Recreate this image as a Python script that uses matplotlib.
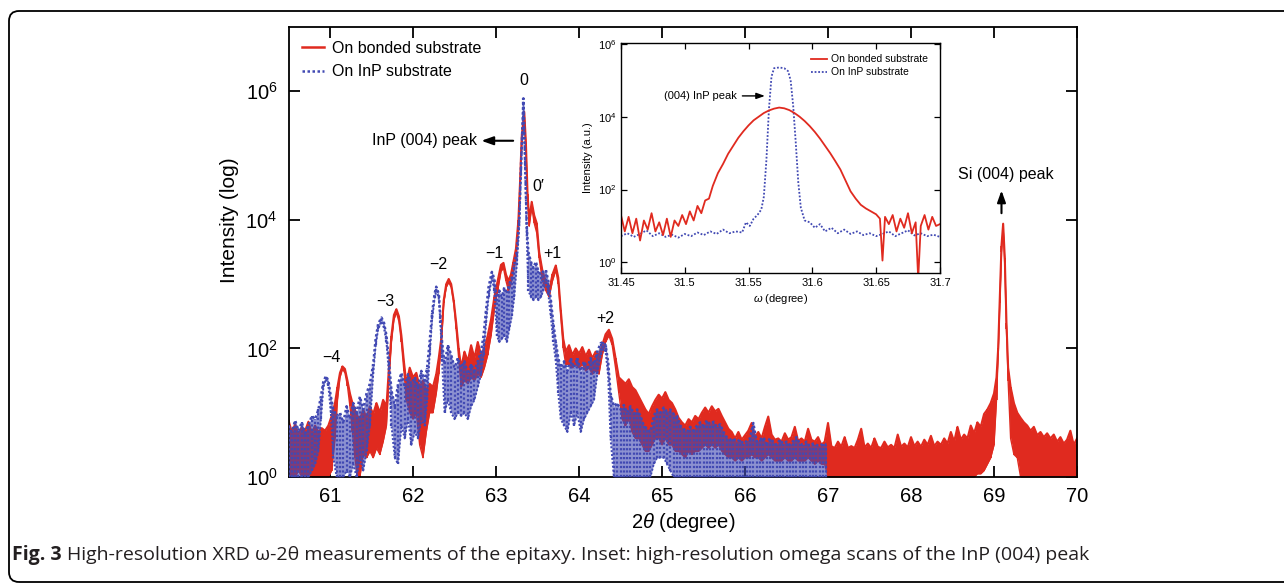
import numpy as np
import matplotlib
matplotlib.use('Agg')
import matplotlib.pyplot as plt
from matplotlib.lines import Line2D
from matplotlib.patches import FancyBboxPatch
from matplotlib.transforms import IdentityTransform
from matplotlib.ticker import FixedLocator, FixedFormatter, NullLocator

plt.rcParams['font.family'] = ['Liberation Sans', 'DejaVu Sans']
plt.rcParams['mathtext.fontset'] = 'custom'
plt.rcParams['mathtext.rm'] = 'Liberation Sans'
plt.rcParams['mathtext.it'] = 'Liberation Sans:italic'
plt.rcParams['mathtext.default'] = 'regular'

RED = '#e02a1f'
BLUE = '#4149b3'

# ---- main scan, on bonded substrate (2theta, log10 upper / lower envelope) ----
bonded_2theta = [
    60.50, 60.54, 60.58, 60.62, 60.66, 60.70, 60.74, 60.78, 60.82, 60.86, 60.90, 60.94, 60.98, 61.02,
    61.06, 61.09, 61.12, 61.15, 61.18, 61.21, 61.24, 61.27, 61.30, 61.33, 61.36,
    61.40, 61.44, 61.48, 61.52, 61.56, 61.60, 61.64, 61.68,
    61.71, 61.74, 61.77, 61.80, 61.83, 61.86, 61.89, 61.92,
    61.96, 62.00, 62.04, 62.08, 62.12, 62.16, 62.20, 62.24, 62.28, 62.31,
    62.34, 62.37, 62.40, 62.43, 62.46, 62.49, 62.52, 62.55, 62.58,
    62.62, 62.66, 62.70, 62.74, 62.78, 62.82, 62.86,
    62.90, 62.94, 62.98, 63.02, 63.06, 63.09, 63.12, 63.15, 63.18, 63.21, 63.24, 63.27, 63.29, 63.31,
    63.34, 63.36, 63.38, 63.40, 63.43, 63.46, 63.49, 63.52, 63.56, 63.60, 63.64, 63.68, 63.72, 63.75,
    63.78, 63.81, 63.84,
    63.88, 63.92, 63.96, 64.00, 64.04, 64.08, 64.12, 64.16, 64.20, 64.24,
    64.28, 64.32, 64.36, 64.40, 64.44, 64.48,
    64.52, 64.56, 64.60, 64.64, 64.68, 64.72, 64.76, 64.80, 64.84, 64.88, 64.92, 64.96, 65.00, 65.04,
    65.08, 65.12, 65.16, 65.20, 65.24, 65.28, 65.32, 65.36, 65.40, 65.44, 65.48, 65.52, 65.56, 65.60,
    65.64, 65.68, 65.72, 65.76, 65.80, 65.84, 65.88, 65.92, 65.96, 66.00, 66.04, 66.08, 66.12, 66.16,
    66.20, 66.24, 66.28, 66.32, 66.36, 66.40, 66.44, 66.48, 66.52, 66.56, 66.60, 66.64, 66.68, 66.72,
    66.76, 66.80, 66.84, 66.88, 66.92, 66.96,
    67.00, 67.04, 67.08, 67.12, 67.16, 67.20, 67.24, 67.28, 67.32, 67.36, 67.40, 67.44, 67.48, 67.52,
    67.56, 67.60, 67.64, 67.68, 67.72, 67.76, 67.80, 67.84, 67.88, 67.92, 67.96, 68.00, 68.04, 68.08,
    68.12, 68.16, 68.20, 68.24, 68.28, 68.32, 68.36, 68.40, 68.44, 68.48, 68.52, 68.56, 68.60, 68.64,
    68.68, 68.72, 68.76, 68.80, 68.84, 68.88, 68.92, 68.96, 69.00, 69.03, 69.05, 69.07, 69.09, 69.11,
    69.13, 69.15, 69.17, 69.20, 69.24, 69.28, 69.32, 69.36, 69.40, 69.44, 69.48, 69.52, 69.56, 69.60,
    69.64, 69.68, 69.72, 69.76, 69.80, 69.84, 69.88, 69.92, 69.96, 70.00,
]
bonded_log_hi = [
    0.88, 0.70, 0.82, 0.66, 0.78, 0.72, 0.86, 0.68, 0.80, 0.70, 0.76, 0.72, 0.80, 0.95,
    1.15, 1.40, 1.62, 1.72, 1.68, 1.50, 1.30, 1.15, 1.05, 0.95, 0.90,
    1.05, 0.92, 1.10, 0.98, 1.15, 1.00, 1.20, 1.10,
    1.70, 2.20, 2.52, 2.61, 2.50, 2.20, 1.80, 1.45,
    1.70, 1.55, 1.62, 1.40, 1.50, 1.35, 1.45, 1.40, 1.60, 1.85,
    2.15, 2.75, 3.00, 3.08, 3.00, 2.75, 2.40, 2.00, 1.70,
    1.95, 1.80, 2.05, 1.85, 2.10, 1.90, 2.00,
    2.20, 2.45, 2.80, 3.05, 3.30, 3.33, 3.15, 3.05, 3.15, 3.35, 3.55, 4.00, 4.60, 5.30,
    5.68, 5.20, 4.40, 4.00, 4.28, 4.07, 3.95, 3.50, 3.20, 3.05, 2.90, 3.15, 3.29, 3.10,
    2.60, 2.15, 1.95,
    2.05, 1.90, 2.00, 1.92, 2.02, 1.88, 1.98, 1.85, 1.95, 1.90,
    2.05, 2.22, 2.29, 2.15, 1.85, 1.55,
    1.50, 1.45, 1.52, 1.40, 1.35, 1.25, 1.15, 1.05, 0.98, 1.10, 1.20, 1.28, 1.22, 1.32,
    1.20, 1.15, 1.05, 0.92, 0.85, 0.80, 0.90, 0.85, 0.95, 0.90, 1.00, 1.08, 1.00, 1.10,
    1.02, 1.06, 0.95, 0.85, 0.75, 0.70, 0.60, 0.70, 0.58, 0.65, 0.72, 0.84, 0.62, 0.70,
    0.60, 0.78, 0.94, 0.66, 0.58, 0.60, 0.55, 0.68, 0.58, 0.62, 0.78, 0.56, 0.60, 0.55,
    0.75, 0.58, 0.55, 0.62, 0.50, 0.55,
    0.84, 0.48, 0.45, 0.55, 0.47, 0.62, 0.45, 0.48, 0.45, 0.58, 0.75, 0.46, 0.52, 0.45,
    0.60, 0.47, 0.45, 0.55, 0.46, 0.50, 0.45, 0.66, 0.47, 0.52, 0.46, 0.62, 0.48, 0.55,
    0.47, 0.58, 0.50, 0.64, 0.48, 0.55, 0.50, 0.60, 0.52, 0.70, 0.55, 0.78, 0.58, 0.66,
    0.60, 0.80, 0.68, 0.85, 0.78, 0.98, 1.05, 1.15, 1.30, 1.55, 2.00, 2.80, 3.60, 3.94,
    3.40, 2.40, 1.70, 1.40, 1.15, 1.00, 0.92, 0.85, 0.80, 0.72, 0.78, 0.65, 0.70, 0.62,
    0.68, 0.60, 0.66, 0.55, 0.62, 0.52, 0.58, 0.72, 0.50, 0.60,
]
bonded_log_lo = [
    0.00, 0.05, 0.00, 0.10, 0.00, 0.00, 0.05, 0.00, 0.00, 0.00, 0.00, 0.00, 0.00, 0.10,
    0.60, 1.20, 1.55, 1.68, 1.62, 1.42, 1.10, 0.70, 0.30, 0.00, 0.00,
    0.35, 0.30, 0.40, 0.30, 0.45, 0.35, 0.55, 0.80,
    1.50, 2.10, 2.45, 2.56, 2.42, 2.10, 1.65, 1.20,
    1.00, 0.90, 1.00, 0.50, 0.30, 0.70, 1.00, 1.00, 1.30, 1.60,
    2.05, 2.70, 2.95, 3.03, 2.95, 2.70, 2.30, 1.85, 1.40,
    1.50, 1.45, 1.55, 1.50, 1.60, 1.55, 1.70,
    1.90, 2.20, 2.60, 2.90, 3.20, 3.25, 3.05, 2.90, 3.00, 3.20, 3.40, 3.90, 4.50, 5.20,
    5.60, 5.10, 4.30, 3.90, 4.20, 3.95, 3.80, 3.40, 3.05, 2.90, 2.80, 3.05, 3.22, 3.00,
    2.50, 2.00, 1.75,
    1.75, 1.70, 1.75, 1.70, 1.75, 1.65, 1.70, 1.60, 1.65, 1.60,
    1.90, 2.10, 2.20, 2.05, 1.70, 1.30,
    0.90, 0.80, 0.90, 0.70, 0.60, 0.60, 0.50, 0.40, 0.40, 0.50, 0.60, 0.60, 0.50, 0.60,
    0.50, 0.50, 0.40, 0.40, 0.35, 0.30, 0.40, 0.35, 0.40, 0.40, 0.45, 0.50, 0.45, 0.50,
    0.45, 0.50, 0.40, 0.35, 0.30, 0.30, 0.25, 0.30, 0.25, 0.30, 0.30, 0.35, 0.30, 0.30,
    0.25, 0.30, 0.35, 0.30, 0.25, 0.25, 0.25, 0.30, 0.25, 0.25, 0.30, 0.25, 0.25, 0.25,
    0.30, 0.25, 0.20, 0.25, 0.20, 0.20,
    0.00, 0.00, 0.00, 0.00, 0.00, 0.00, 0.00, 0.00, 0.00, 0.00, 0.00, 0.00, 0.00, 0.00,
    0.00, 0.00, 0.00, 0.00, 0.00, 0.00, 0.00, 0.00, 0.00, 0.00, 0.00, 0.00, 0.00, 0.00,
    0.00, 0.00, 0.00, 0.00, 0.00, 0.00, 0.00, 0.00, 0.00, 0.00, 0.00, 0.00, 0.00, 0.00,
    0.00, 0.00, 0.00, 0.05, 0.05, 0.10, 0.20, 0.30, 0.50, 1.20, 1.90, 2.70, 3.50, 3.85,
    3.30, 2.30, 1.50, 0.60, 0.35, 0.30, 0.00, 0.00, 0.00, 0.00, 0.00, 0.00, 0.00, 0.00,
    0.00, 0.00, 0.00, 0.00, 0.00, 0.00, 0.00, 0.00, 0.00, 0.00,
]

# ---- main scan, on InP substrate ----
inp_2theta = [
    60.50, 60.54, 60.58, 60.62, 60.66, 60.70, 60.74, 60.78, 60.82, 60.86,
    60.89, 60.92, 60.95, 60.98, 61.01, 61.04, 61.08, 61.12, 61.16, 61.20, 61.24, 61.28, 61.32, 61.36,
    61.40, 61.44, 61.48,
    61.52, 61.55, 61.58, 61.62, 61.65, 61.68, 61.71, 61.74, 61.78, 61.82, 61.86, 61.90, 61.94, 61.98,
    62.02, 62.06, 62.10, 62.14, 62.17,
    62.20, 62.23, 62.26, 62.28, 62.31, 62.33, 62.35, 62.38, 62.42, 62.46, 62.50, 62.54, 62.58, 62.62,
    62.66, 62.70, 62.74, 62.78, 62.82,
    62.85, 62.88, 62.91, 62.95, 62.98, 63.01, 63.04, 63.07, 63.10, 63.13, 63.16, 63.19, 63.22, 63.25,
    63.28, 63.30, 63.33, 63.35, 63.37, 63.39, 63.42, 63.45, 63.48, 63.51, 63.54, 63.57, 63.60, 63.63,
    63.66, 63.69, 63.72, 63.75, 63.78, 63.82, 63.86, 63.90, 63.94, 63.98, 64.02, 64.06, 64.10, 64.14,
    64.18,
    64.22, 64.26, 64.29, 64.32, 64.35, 64.38, 64.42, 64.46, 64.50, 64.54, 64.58, 64.62, 64.66, 64.70,
    64.74, 64.78, 64.82, 64.86, 64.90, 64.94, 64.98, 65.02, 65.06, 65.10, 65.14, 65.18, 65.22, 65.26,
    65.30, 65.34, 65.38, 65.42, 65.46, 65.50, 65.54, 65.58, 65.62, 65.66, 65.70, 65.74, 65.78, 65.82,
    65.86, 65.90, 65.94, 65.98, 66.02, 66.06, 66.10, 66.14, 66.18, 66.22, 66.26, 66.30, 66.34, 66.38,
    66.42, 66.46, 66.50, 66.54, 66.58, 66.62, 66.66, 66.70, 66.74, 66.78, 66.82, 66.86, 66.90, 66.94,
    66.98,
]
inp_log_hi = [
    0.80, 0.70, 0.88, 0.72, 0.85, 0.68, 0.80, 0.95, 0.90, 1.05,
    1.25, 1.48, 1.57, 1.50, 1.25, 1.05, 0.95, 1.00, 0.85, 1.10, 0.90, 1.15, 1.00, 1.25,
    1.05, 1.30, 1.45,
    1.75, 2.15, 2.38, 2.48, 2.40, 2.20, 1.80, 1.35, 1.10, 1.45, 1.62, 1.40, 1.60, 1.45,
    1.55, 1.40, 1.65, 1.50, 1.70,
    2.10, 2.55, 2.85, 2.96, 2.85, 2.50, 2.10, 1.75, 2.05, 1.90, 1.70, 1.85, 1.70, 1.80,
    1.60, 1.75, 1.65, 1.80, 1.95,
    2.20, 2.60, 2.95, 3.19, 3.08, 2.75, 2.90, 2.80, 2.95, 2.85, 3.00, 3.10, 3.30, 3.50,
    4.00, 4.80, 5.89, 4.95, 3.90, 3.50, 3.35, 3.25, 3.35, 3.20, 3.15, 3.20, 3.22, 3.05,
    2.75, 2.40, 2.10, 1.85, 1.70, 1.80, 1.65, 1.85, 1.70, 1.85, 1.65, 1.80, 1.70, 1.85,
    1.75,
    1.95, 2.08, 2.10, 2.05, 1.80, 1.30, 1.10, 1.15, 1.05, 1.12, 1.00, 1.10, 0.98, 1.05,
    0.95, 0.80, 0.75, 0.70, 0.95, 1.05, 1.00, 1.08, 1.02, 1.05, 0.98, 0.95, 0.80, 0.75,
    0.70, 0.78, 0.72, 0.80, 0.85, 0.80, 0.88, 0.82, 0.86, 0.78, 0.82, 0.70, 0.62, 0.58,
    0.60, 0.55, 0.58, 0.52, 0.56, 0.60, 0.84, 0.55, 0.58, 0.62, 0.52, 0.60, 0.55, 0.50,
    0.58, 0.52, 0.55, 0.50, 0.56, 0.62, 0.52, 0.50, 0.55, 0.48, 0.52, 0.50, 0.48, 0.52,
    0.50,
]
inp_log_lo = [
    0.00, 0.00, 0.00, 0.00, 0.00, 0.00, 0.00, 0.10, 0.20, 0.40,
    0.90, 1.40, 1.52, 1.42, 1.00, 0.30, 0.00, 0.00, 0.00, 0.10, 0.00, 0.20, 0.00, 0.30,
    0.10, 0.40, 0.80,
    1.60, 2.05, 2.30, 2.42, 2.32, 2.10, 1.60, 0.80, 0.30, 0.20, 0.80, 0.60, 0.90, 0.50,
    0.70, 0.60, 0.90, 0.80, 1.20,
    1.90, 2.45, 2.78, 2.90, 2.78, 2.40, 1.80, 1.00, 1.20, 1.00, 0.90, 1.00, 0.95, 1.00,
    0.90, 1.10, 1.20, 1.40, 1.60,
    1.90, 2.40, 2.80, 3.10, 2.90, 2.20, 2.10, 2.15, 2.20, 2.10, 2.30, 2.50, 2.80, 3.30,
    3.90, 4.70, 5.80, 4.85, 3.75, 2.90, 2.80, 2.75, 2.80, 2.75, 2.80, 2.90, 3.05, 2.85,
    2.50, 2.10, 1.80, 1.30, 0.90, 0.80, 0.70, 1.00, 0.80, 1.00, 0.70, 0.90, 1.00, 1.10,
    1.20,
    1.60, 1.90, 2.00, 1.95, 1.60, 0.60, 0.00, 0.00, 0.00, 0.00, 0.00, 0.00, 0.00, 0.00,
    0.00, 0.00, 0.00, 0.00, 0.20, 0.30, 0.30, 0.30, 0.20, 0.10, 0.00, 0.00, 0.00, 0.00,
    0.00, 0.00, 0.00, 0.00, 0.00, 0.00, 0.00, 0.00, 0.00, 0.00, 0.00, 0.00, 0.00, 0.00,
    0.00, 0.00, 0.00, 0.00, 0.00, 0.00, 0.00, 0.00, 0.00, 0.00, 0.00, 0.00, 0.00, 0.00,
    0.00, 0.00, 0.00, 0.00, 0.00, 0.00, 0.00, 0.00, 0.00, 0.00, 0.00, 0.00, 0.00, 0.00,
    0.00,
]

# ---- inset: omega scans ----
omega_bonded = [
    31.450, 31.453, 31.456, 31.459, 31.462, 31.465, 31.468, 31.471, 31.474, 31.477, 31.480, 31.483,
    31.486, 31.489, 31.492, 31.495, 31.498, 31.501, 31.504, 31.507, 31.510, 31.513, 31.516, 31.519,
    31.522, 31.526, 31.530, 31.534, 31.538, 31.542, 31.546, 31.550, 31.554, 31.558, 31.562, 31.566,
    31.570, 31.574, 31.578, 31.582, 31.586, 31.590, 31.594, 31.598, 31.602, 31.606, 31.610, 31.614,
    31.618, 31.622, 31.626, 31.630, 31.634, 31.638, 31.642, 31.646, 31.650, 31.653, 31.655, 31.657,
    31.660, 31.663, 31.666, 31.669, 31.672, 31.675, 31.678, 31.681, 31.683, 31.685, 31.688, 31.691,
    31.694, 31.697, 31.700,
]
log_bonded_omega = [
    1.30, 0.85, 1.25, 0.80, 1.20, 0.60, 1.15, 0.90, 1.35, 0.85, 1.10, 0.75,
    1.20, 0.70, 1.15, 1.00, 1.30, 1.05, 1.40, 1.15, 1.55, 1.35, 1.70, 1.75,
    2.10, 2.45, 2.70, 2.98, 3.20, 3.42, 3.60, 3.76, 3.90, 4.00, 4.10, 4.17,
    4.22, 4.25, 4.23, 4.18, 4.10, 4.00, 3.88, 3.74, 3.58, 3.40, 3.20, 3.00,
    2.78, 2.55, 2.25, 1.95, 1.75, 1.58, 1.48, 1.40, 1.32, 1.20, 0.05, 1.25,
    1.05, 1.30, 0.85, 1.20, 0.95, 1.35, 0.80, 1.10, -0.45, 1.00, 1.30, 0.90,
    1.25, 1.00, 1.05,
]
omega_inp = [
    31.450, 31.455, 31.460, 31.465, 31.470, 31.475, 31.480, 31.485, 31.490, 31.495, 31.500, 31.505,
    31.510, 31.515, 31.520, 31.525, 31.530, 31.535, 31.540, 31.545, 31.548, 31.551, 31.554, 31.557,
    31.560, 31.562, 31.564, 31.566, 31.568, 31.570, 31.574, 31.578, 31.581, 31.583, 31.585, 31.587,
    31.589, 31.591, 31.594, 31.598, 31.602, 31.606, 31.610, 31.615, 31.620, 31.625, 31.630, 31.635,
    31.640, 31.645, 31.650, 31.655, 31.660, 31.665, 31.670, 31.675, 31.680, 31.685, 31.690, 31.695,
    31.700,
]
log_inp_omega = [
    0.72, 0.80, 0.70, 0.78, 0.88, 0.72, 0.80, 0.70, 0.76, 0.68, 0.78, 0.72,
    0.82, 0.75, 0.85, 0.78, 0.90, 0.80, 0.85, 0.82, 1.10, 1.00, 1.20, 1.30,
    1.45, 1.80, 2.80, 4.20, 5.10, 5.33, 5.35, 5.33, 5.25, 5.00, 4.30, 3.30,
    2.20, 1.50, 1.15, 1.10, 0.95, 1.05, 0.85, 0.95, 0.80, 0.90, 0.78, 0.85,
    0.75, 0.80, 0.72, 0.78, 0.85, 0.72, 0.80, 0.88, 0.74, 0.80, 0.72, 0.76,
    0.70,
]

order_labels = ['0', "0\u2032", '\u22121', '+1', '\u22122', '\u22123', '\u22124', '+2']
order_2theta = [63.33, 63.51, 62.985, 63.68, 62.30, 61.67, 61.02, 64.32]
order_log = [6.16, 4.52, 3.47, 3.48, 3.30, 2.73, 1.86, 2.47]

# ---- figure ----
fig = plt.figure(figsize=(12.84, 5.86), dpi=100)
ax = fig.add_axes([0.2247, 0.186, 0.6141, 0.768])

bx = np.array(bonded_2theta)
bhi = 10 ** np.array(bonded_log_hi)
blo = 10 ** np.array(bonded_log_lo)
ax.fill_between(bx, blo, bhi, color=RED, lw=0, zorder=2)
ax.vlines(bx, blo, bhi, colors=RED, lw=1.2, zorder=2)
ax.plot(bx, bhi, color=RED, lw=1.5, zorder=2)
ax.plot(bx, blo, color=RED, lw=1.0, zorder=2)

# InP scan: light fill plus dotted vertical strokes to mimic the dense dotted trace
ix = np.array(inp_2theta)
ihi = 10 ** np.array(inp_log_hi)
ilo = 10 ** np.array(inp_log_lo)
ax.fill_between(ix, ilo, ihi, color=BLUE, lw=0, alpha=0.6, zorder=3)
ax.vlines(ix, ilo, ihi, colors=BLUE, lw=1.6, linestyles=(0, (1, 1)), zorder=3)
ax.plot(ix, ihi, color=BLUE, lw=1.8, ls=(0, (1, 1)), zorder=3)
ax.plot(ix, ilo, color=BLUE, lw=1.4, ls=(0, (1, 1)), zorder=3)

ax.set_yscale('log')
ax.set_xlim(60.5, 70)
ax.set_ylim(1, 1e7)
ax.xaxis.set_major_locator(FixedLocator(list(range(61, 71))))
ax.yaxis.set_major_locator(FixedLocator([1, 1e2, 1e4, 1e6]))
ax.yaxis.set_major_formatter(FixedFormatter(['$10^{0}$', '$10^{2}$', '$10^{4}$', '$10^{6}$']))
ax.yaxis.set_minor_locator(NullLocator())
ax.tick_params(direction='in', length=8, width=1.3, top=True, right=True, labelsize=14.5)
ax.tick_params(axis='x', pad=7)
ax.tick_params(axis='y', pad=8)
for s in ax.spines.values():
    s.set_linewidth(1.3)
ax.set_xlabel(r'2$\mathit{\theta}$ (degree)', fontsize=14.5, labelpad=4)
ax.set_ylabel('Intensity (log)', fontsize=15)
ax.yaxis.set_label_coords(-0.063, 0.57)

for lab, xx, yy in zip(order_labels, order_2theta, order_log):
    ax.text(xx, 10 ** yy, lab, ha='center', va='center', fontsize=11.5)

ax.text(62.77, 10 ** 5.23, 'InP (004) peak', ha='right', va='center', fontsize=11.5)
ax.annotate('', xy=(62.79, 10 ** 5.23), xytext=(63.24, 10 ** 5.23),
            arrowprops=dict(arrowstyle='-|>,head_length=0.7,head_width=0.25', color='black', lw=1.5))
ax.text(69.14, 10 ** 4.70, 'Si (004) peak', ha='center', va='center', fontsize=11.5)
ax.annotate('', xy=(69.09, 10 ** 4.50), xytext=(69.09, 10 ** 4.06),
            arrowprops=dict(arrowstyle='-|>,head_length=0.7,head_width=0.25', color='black', lw=1.5))

handles = [Line2D([], [], color=RED, lw=1.8),
           Line2D([], [], color=BLUE, lw=1.8, ls=(0, (1, 1)))]
ax.legend(handles, ['On bonded substrate', 'On InP substrate'], loc='upper left',
          frameon=False, fontsize=11.5, handlelength=1.4, handletextpad=0.5,
          borderaxespad=0.45, labelspacing=0.55)

# ---- inset ----
axi = fig.add_axes([0.4836, 0.5336, 0.2484, 0.3935])
axi.set_zorder(5)
axi.plot(omega_inp, 10 ** np.array(log_inp_omega), color=BLUE, lw=1.3, ls=(0, (1, 1)))
axi.plot(omega_bonded, 10 ** np.array(log_bonded_omega), color=RED, lw=1.3)
axi.set_yscale('log')
axi.set_xlim(31.45, 31.7)
axi.set_ylim(10 ** -0.3, 10 ** 6.03)
axi.xaxis.set_major_locator(FixedLocator([31.45, 31.5, 31.55, 31.6, 31.65, 31.7]))
axi.xaxis.set_major_formatter(FixedFormatter(['31.45', '31.5', '31.55', '31.6', '31.65', '31.7']))
axi.yaxis.set_major_locator(FixedLocator([1, 1e2, 1e4, 1e6]))
axi.yaxis.set_major_formatter(FixedFormatter(['$10^{0}$', '$10^{2}$', '$10^{4}$', '$10^{6}$']))
axi.yaxis.set_minor_locator(NullLocator())
axi.tick_params(direction='in', length=4, width=0.9, top=True, right=True, labelsize=8)
for s in axi.spines.values():
    s.set_linewidth(1.0)
axi.set_xlabel(r'$\mathit{\omega}$ (degree)', fontsize=8, labelpad=3)
axi.set_ylabel('Intensity (a.u.)', fontsize=8, labelpad=3)
axi.text(31.541, 10 ** 4.57, '(004) InP peak', ha='right', va='center', fontsize=8)
axi.annotate('', xy=(31.565, 10 ** 4.57), xytext=(31.543, 10 ** 4.57),
             arrowprops=dict(arrowstyle='-|>,head_length=0.5,head_width=0.18', color='black', lw=1.0))
handles_i = [Line2D([], [], color=RED, lw=1.3),
             Line2D([], [], color=BLUE, lw=1.3, ls=(0, (1, 1)))]
axi.legend(handles_i, ['On bonded substrate', 'On InP substrate'], loc='upper right',
           frameon=False, fontsize=7.5, handlelength=1.6, handletextpad=0.4,
           borderaxespad=0.7, labelspacing=0.3)

# ---- rounded frame and caption ----
frame = FancyBboxPatch((9, 4), 1300, 571, boxstyle='round,pad=0,rounding_size=10',
                       transform=IdentityTransform(), fill=False, ec='black', lw=1.3)
fig.add_artist(frame)

t1 = fig.text(12 / 1284, 1 - 555 / 586, 'Fig. 3', fontfamily='Open Sans', fontweight='bold',
              fontsize=14, va='center', color='#231f20')
fig.canvas.draw()
bb = t1.get_window_extent(fig.canvas.get_renderer())
fig.text((bb.x1 + 5) / 1284, 1 - 555 / 586,
         'High-resolution XRD \u03c9-2\u03b8 measurements of the epitaxy. Inset: high-resolution omega scans of the InP (004) peak',
         fontfamily='Open Sans', fontsize=14, va='center', color='#231f20')

fig.savefig('out.png', dpi=100)
